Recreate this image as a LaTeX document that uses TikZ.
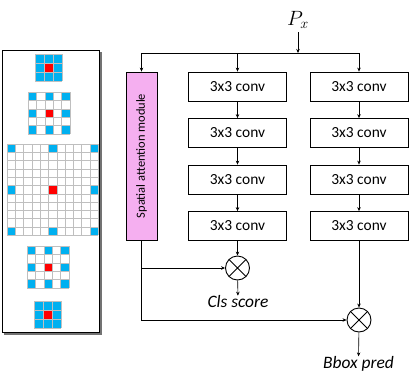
\documentclass[tikz,border=0pt]{standalone}
\usepackage{fontspec}
\setmainfont{Carlito}
\usepackage{tikz}
\usetikzlibrary{arrows.meta,positioning,calc}
\definecolor{cellblue}{RGB}{0,176,240}
\definecolor{cellred}{RGB}{255,0,0}
\definecolor{gridgray}{RGB}{191,191,191}
\definecolor{sampink}{RGB}{245,175,240}
\tikzset{
  conv/.style={draw,line width=0.8pt,minimum width=98bp,minimum height=29bp,inner sep=0pt,font=\fontsize{15.5}{17}\selectfont},
  sambox/.style={draw,line width=0.8pt,fill=sampink,minimum width=31bp,minimum height=168bp,inner sep=0pt},
  mult/.style={circle,draw,line width=0.9pt,minimum size=24bp,inner sep=0pt,path picture={
    \draw[line width=0.9pt] (path picture bounding box.south west)--(path picture bounding box.north east)
      (path picture bounding box.north west)--(path picture bounding box.south east);}},
  outlbl/.style={font=\fontsize{17.5}{20}\selectfont\itshape,inner sep=0pt},
  gridline/.style={draw=gridgray,line width=0.5pt},
  arr/.style={-{Stealth[length=4pt,width=3.5pt]},line width=0.6pt},
}
% x0, y0, cells, cell size, dilation
\newcommand{\dilgrid}[5]{%
  \foreach \i in {1,...,#3}{\foreach \j in {1,...,#3}{
    \pgfmathtruncatemacro{\on}{(mod(\i-1,#5)==0)&&(mod(\j-1,#5)==0)}
    \ifnum\on=1 \fill[cellblue] ({#1+(\i-1)*#4},{#2+(\j-1)*#4}) rectangle ++(#4,#4);\fi}}
  \fill[cellred] ({#1+(#3-1)/2*#4},{#2+(#3-1)/2*#4}) rectangle ++(#4,#4);
  \foreach \k in {0,...,#3}{
    \draw[gridline] ({#1+\k*#4},#2) -- ++(0,{#3*#4});
    \draw[gridline] (#1,{#2+\k*#4}) -- ++({#3*#4},0);}}
\begin{document}
\begin{tikzpicture}[x=1bp,y=-1bp]
  \useasboundingbox (0,0) rectangle (415,385);
  \fill[black!55] (4,52) rectangle (101.5,334.5);
  \filldraw[fill=white,line width=1pt] (2,50) rectangle (99,332);
  \foreach \x/\y/\n/\s/\d in {35/54/3/9/1, 28/92/5/8.4/2, 7/144/11/8.3/5, 27/246/5/8.4/2, 34/301/3/9/1}{
    \dilgrid{\x}{\y}{\n}{\s}{\d}}
  \node[font=\fontsize{20}{24}\selectfont] (px) at (298,20) {$P_x$};
  \coordinate (split) at (298,53);
  \node[sambox] (sam) at (141.5,156) {};
  \node[rotate=90,font=\fontsize{12.5}{14}\selectfont] (samlbl) at (sam) {Spatial attention module};
  \foreach \c/\x in {a/237.5,b/359}{\foreach \r/\y in {1/86.5,2/133,3/179.5,4/226}{
    \node[conv] (\c\r) at (\x,\y) {3x3 conv};}}
  \node[mult] (cmul) at (237.5,268) {};
  \node[mult] (bmul) at (359,320) {};
  \node[outlbl] (cls) at (238,302) {Cls score};
  \node[outlbl] (bbox) at (358.5,364) {Bbox pred};
  \draw[arr] (px) -- (split);
  \foreach \t in {sam,a1,b1}{\draw[arr] (split) -| (\t.north);}
  \foreach \c in {a,b}{\foreach \r/\s in {1/2,2/3,3/4}{\draw[arr] (\c\r) -- (\c\s);}}
  \draw[arr] (a4) -- (cmul);
  \draw[arr] (b4) -- (bmul);
  \draw[arr] (sam.south |- cmul) -- (cmul.west);
  \draw[arr] (sam.south) |- (bmul.west);
  \draw[arr] (cmul) -- (cls);
  \draw[arr] (bmul) -- (bbox);
\end{tikzpicture}
\end{document}
